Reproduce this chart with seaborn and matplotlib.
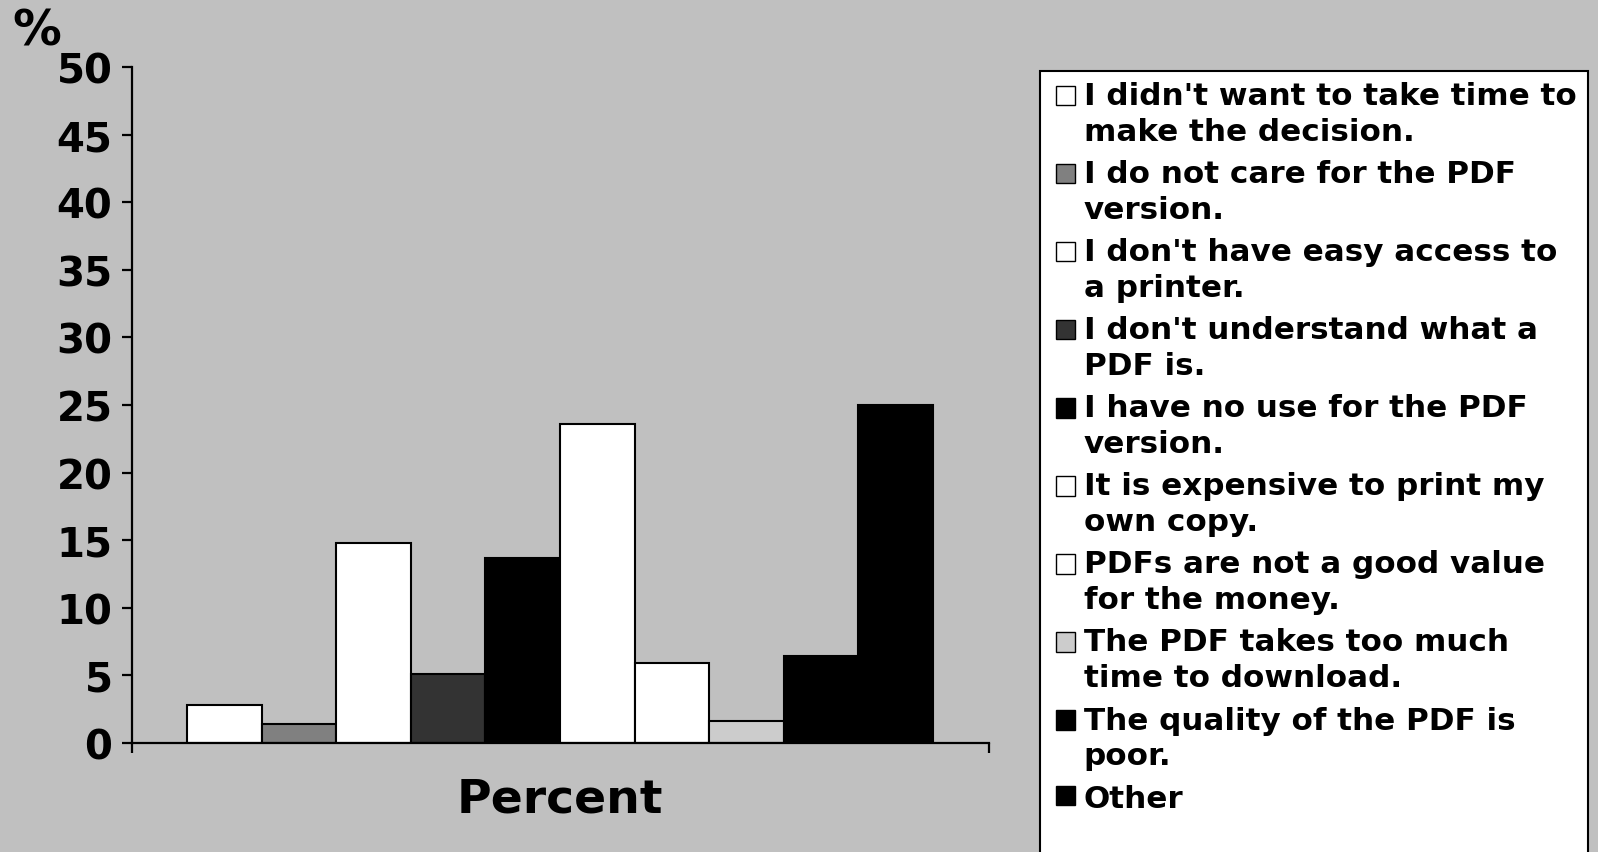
import pandas as pd
import matplotlib
matplotlib.use("Agg")
import matplotlib.pyplot as plt
import seaborn as sns
from matplotlib.patches import Rectangle
from matplotlib.legend_handler import HandlerPatch

# data
group = "Percent"
reasons = [
    "I didn't want to take time to\nmake the decision.",
    "I do not care for the PDF\nversion.",
    "I don't have easy access to\na printer.",
    "I don't understand what a\nPDF is.",
    "I have no use for the PDF\nversion.",
    "It is expensive to print my\nown copy.",
    "PDFs are not a good value\nfor the money.",
    "The PDF takes too much\ntime to download.",
    "The quality of the PDF is\npoor.",
    "Other",
]
percent = [2.8, 1.4, 14.8, 5.1, 13.7, 23.6, 5.9, 1.6, 6.4, 25.0]
bar_colors = ["#FFFFFF", "#808080", "#FFFFFF", "#333333", "#000000",
              "#FFFFFF", "#FFFFFF", "#CCCCCC", "#000000", "#000000"]
yticks = list(range(0, 55, 5))

BG = "#C0C0C0"

sns.set_style("white")
plt.rcParams["font.family"] = ["DejaVu Sans"]
plt.rcParams["font.weight"] = "bold"
plt.rcParams["text.color"] = "black"
plt.rcParams["xtick.color"] = "black"
plt.rcParams["ytick.color"] = "black"

df = pd.DataFrame({"group": [group] * len(reasons), "reason": reasons, "percent": percent})

fig = plt.figure(figsize=(15.98, 8.53), dpi=100, facecolor=BG)
ax = fig.add_axes([131.5 / 1598, 109 / 853, 857 / 1598, 676 / 853])
ax.set_facecolor(BG)

sns.barplot(data=df, x="group", y="percent", hue="reason", hue_order=reasons,
            palette=dict(zip(reasons, bar_colors)), saturation=1, width=0.87,
            edgecolor="black", linewidth=1.5, errorbar=None, legend=False, ax=ax)

ax.set_xlim(-0.5, 0.5)
ax.set_ylim(0, 50)
ax.set_yticks(yticks)
ax.set_xlabel("")
ax.set_ylabel("")
for s in ["top", "right"]:
    ax.spines[s].set_visible(False)
for s in ["left", "bottom"]:
    ax.spines[s].set_color("black")
    ax.spines[s].set_linewidth(1.6)

ax.tick_params(axis="y", direction="out", length=7.2, width=1.6, color="black",
               labelsize=29, pad=6.5, left=True, labelcolor="black")
ax.tick_params(axis="x", which="major", length=0, labelsize=34, pad=24, bottom=True,
               labelcolor="black")
ax.set_xticks([-0.5, 0.5], minor=True)
ax.tick_params(axis="x", which="minor", direction="out", length=7.5, width=1.6,
               color="black", bottom=True)
for lab in ax.get_xticklabels() + ax.get_yticklabels():
    lab.set_fontweight("bold")

fig.text(12 / 1598, 1 - 46 / 853, "%", fontsize=35, fontweight="bold", va="baseline")

# legend box, runs off the bottom like the original
fig.add_artist(Rectangle((1039.5 / 1598, -0.1), 548.5 / 1598, 1.1 - 72 / 853,
                         transform=fig.transFigure, facecolor="white",
                         edgecolor="black", linewidth=1.5, zorder=1))


def top_square(legend, orig_handle, xdescent, ydescent, width, height, fontsize):
    return Rectangle((-xdescent, -ydescent + 0.6 * fontsize), width, height)


def plain_square(legend, orig_handle, xdescent, ydescent, width, height, fontsize):
    return Rectangle((-xdescent, -ydescent), width, height)


handles = ax.patches[:len(reasons)]
hmap = {}
for h, r in zip(handles, reasons):
    if "\n" in r:
        hmap[h] = HandlerPatch(patch_func=top_square)
    else:
        hmap[h] = HandlerPatch(patch_func=plain_square)

leg = fig.legend(handles, reasons, handler_map=hmap, loc="upper left",
                 bbox_to_anchor=(1056 / 1598, 1 - 82 / 853), frameon=False,
                 prop={"size": 22.3, "weight": "bold"}, handlelength=0.6,
                 handleheight=0.6, handletextpad=0.3, labelspacing=0.425,
                 borderpad=0, borderaxespad=0)
leg.set_zorder(2)
for t in leg.get_texts():
    t.set_linespacing(1.3)
    t.set_color("black")
for h in leg.legend_handles:
    h.set_linewidth(1.0)

fig.savefig("out.png", dpi=100, facecolor=BG)
